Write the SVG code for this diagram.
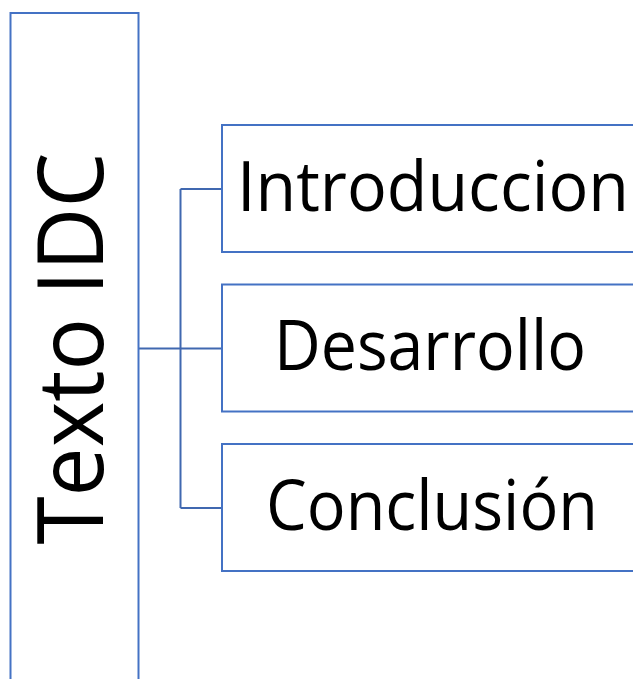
<svg xmlns="http://www.w3.org/2000/svg" width="633" height="679" viewBox="0 0 633 679">
<style>
.box{fill:#fff;stroke:#4472C4;stroke-width:2}
.conn{fill:none;stroke:#4068B0;stroke-width:2}
.t{font-family:"Open Sans","Liberation Sans",sans-serif;fill:#000;text-anchor:middle}
</style>
<rect width="633" height="679" fill="#fff"/>
<g id="connectors">
<path class="conn" d="M138,348.5 H222 M180.5,189 V508 M180.5,189 H222 M180.5,508 H222"/>
</g>
<g id="root">
<rect class="box" x="10.5" y="13" width="128" height="700"/>
<text class="t" font-size="91" transform="translate(103,348.5) rotate(-90)" textLength="392" lengthAdjust="spacingAndGlyphs">Texto IDC</text>
</g>
<g id="introduccion">
<rect class="box" x="222" y="125" width="430" height="127"/>
<text class="t" x="433" y="211" font-size="69" textLength="392" lengthAdjust="spacingAndGlyphs">Introduccion</text>
</g>
<g id="desarrollo">
<rect class="box" x="222" y="284.5" width="430" height="127"/>
<text class="t" x="430" y="370" font-size="69" textLength="312" lengthAdjust="spacingAndGlyphs">Desarrollo</text>
</g>
<g id="conclusion">
<rect class="box" x="222" y="444" width="430" height="127"/>
<text class="t" x="432" y="530" font-size="69" textLength="332" lengthAdjust="spacingAndGlyphs">Conclusión</text>
</g>
</svg>
